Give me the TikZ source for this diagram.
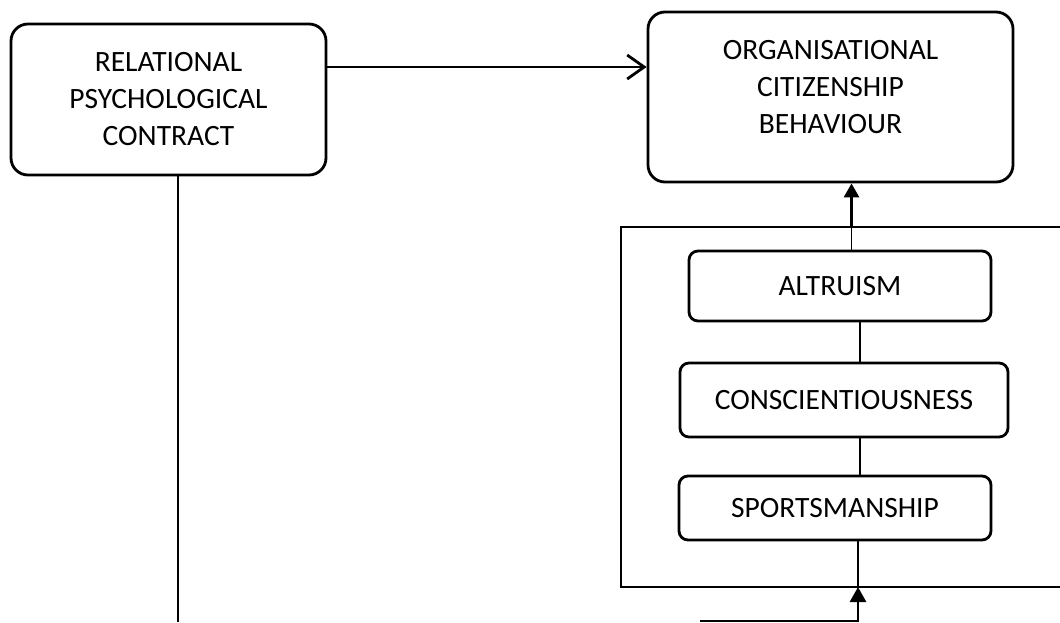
\documentclass[tikz,border=0pt]{standalone}
\usepackage{fontspec}
\setmainfont{Carlito}
\usetikzlibrary{arrows.meta}
\tikzset{
	bigbox/.style={draw,line width=2.8pt,rounded corners=17pt,inner sep=0pt},
	dimbox/.style={draw,line width=2.8pt,rounded corners=9pt,inner sep=0pt,font=\fontsize{29.5}{37}\selectfont},
	boxtext/.style={align=center,font=\fontsize{29.5}{37}\selectfont,inner sep=0pt},
	thin/.style={line width=1.3pt},
	thick/.style={line width=2.8pt}
}
\begin{document}
\begin{tikzpicture}[x=1pt,y=-1pt]
	\useasboundingbox (0,0) rectangle (1060,622);
	\clip (0,0) rectangle (1060,622);
	\fill[white] (0,0) rectangle (1060,622);
	% main boxes
	\node[bigbox,minimum width=315,minimum height=151] (rpc) at (168.5,99.5) {};
	\node[boxtext] (rpctext) at (rpc.center) {RELATIONAL\\PSYCHOLOGICAL\\CONTRACT};
	\node[bigbox,minimum width=365,minimum height=170] (ocb) at (830.5,97) {};
	\node[boxtext] (ocbtext) at (ocb.center) [yshift=10pt] {ORGANISATIONAL\\CITIZENSHIP\\BEHAVIOUR};
	% frame round the dimensions
	\draw[thick] (1075,227) -- (621,227) -- (621,587) -- (1075,587);
	\coordinate (ftop) at (851.5,227);
	\coordinate (fbot) at (858,587);
	% dimensions
	\node[dimbox,minimum width=302,minimum height=70] (alt) at (840,286) {ALTRUISM};
	\node[dimbox,minimum width=328,minimum height=74] (con) at (844,400) {CONSCIENTIOUSNESS};
	\node[dimbox,minimum width=312,minimum height=64] (spo) at (835,508) {SPORTSMANSHIP};
	% connectors
	\draw[thick,-{Straight Barb[length=17pt,width=24pt]}] (rpc.east |- 0,67) -- (ocb.west |- 0,67);
	\draw[thick,-{Triangle[length=14pt,width=15pt]}] (ftop) -- (ocb.south -| ftop);
	\draw[thin] (alt.north -| ftop) -- (ftop);
	\draw[thin] (alt.south -| 860,0) -- (con.north -| 860,0);
	\draw[thin] (con.south -| 860,0) -- (spo.north -| 860,0);
	\draw[thin] (spo.south -| fbot) -- (fbot);
	\coordinate (rpcend) at (178,622);
	\draw[thin] (rpc.south -| rpcend) -- (rpcend);
	\coordinate (inlet) at (700,621);
	\draw[thick,-{Triangle[length=15pt,width=16pt]}] (inlet) -- (858,621) -- (fbot);
\end{tikzpicture}
\end{document}
